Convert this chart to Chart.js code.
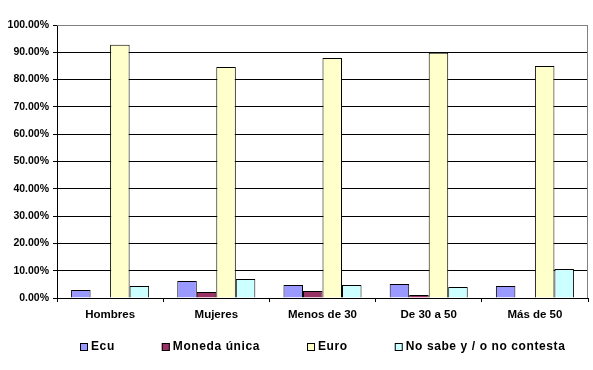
<!DOCTYPE html>
<html>
<head>
<meta charset="utf-8">
<script src="https://cdn.jsdelivr.net/npm/chart.js@4/dist/chart.umd.min.js"></script>
<style>
html,body{margin:0;padding:0;background:#fff;}
#wrap{width:593px;height:370px;}
</style>
</head>
<body>
<div id="wrap"><canvas id="c" width="593" height="370"></canvas></div>
<script>
const categories = ["Hombres", "Mujeres", "Menos de 30", "De 30 a 50", "Más de 50"];
const seriesNames = ["Ecu", "Moneda única", "Euro", "No sabe y / o no contesta"];
const ecu = [2.9, 6.2, 4.8, 5.1, 4.4];
const monedaUnica = [0, 2.2, 2.6, 1.1, 0];
const euro = [92.8, 84.6, 87.9, 89.8, 85.0];
const noSabe = [4.4, 7.0, 4.8, 4.0, 10.6];
const yTicks = [0, 10, 20, 30, 40, 50, 60, 70, 80, 90, 100];

const colors = ["#9999FF", "#993366", "#FFFFCC", "#CCFFFF"];
const values = [ecu, monedaUnica, euro, noSabe];

const plotBorder = {
  id: 'plotBorder',
  afterDatasetsDraw(chart) {
    const a = chart.chartArea, ctx = chart.ctx;
    ctx.save();
    ctx.strokeStyle = '#808080';
    ctx.lineWidth = 1;
    ctx.beginPath();
    ctx.moveTo(a.left, Math.round(a.top) + 0.5);
    ctx.lineTo(Math.round(a.right) - 0.5, Math.round(a.top) + 0.5);
    ctx.lineTo(Math.round(a.right) - 0.5, a.bottom);
    ctx.stroke();
    ctx.restore();
  }
};

// legend drawn from the chart's own dataset labels/colours
const bottomLegend = {
  id: 'bottomLegend',
  afterDraw(chart) {
    const ctx = chart.ctx;
    const items = chart.data.datasets.map(d => ({ text: d.label, fill: d.backgroundColor }));
    const box = 8, boxGap = 3, itemGap = 47, centerX = 322.5, centerY = 347;
    ctx.save();
    ctx.font = 'bold 12px Arial, "Liberation Sans", sans-serif';
    try { ctx.letterSpacing = '0.6px'; } catch (e) {}
    const widths = items.map(it => ctx.measureText(it.text).width);
    const total = widths.reduce((s, w) => s + w + box + boxGap, 0) + itemGap * (items.length - 1);
    let x = Math.round(centerX - total / 2);
    ctx.textBaseline = 'middle';
    ctx.textAlign = 'left';
    items.forEach((it, i) => {
      ctx.fillStyle = it.fill;
      ctx.fillRect(x, centerY - box / 2, box, box);
      ctx.strokeStyle = '#000';
      ctx.lineWidth = 1;
      ctx.strokeRect(x + 0.5, centerY - box / 2 + 0.5, box - 1, box - 1);
      ctx.fillStyle = '#000';
      ctx.fillText(it.text, x + box + boxGap, centerY);
      x += box + boxGap + widths[i] + itemGap;
    });
    ctx.restore();
  }
};

new Chart(document.getElementById('c'), {
  type: 'bar',
  data: {
    labels: categories,
    datasets: seriesNames.map((n, i) => ({
      label: n,
      data: values[i],
      backgroundColor: colors[i],
      borderColor: '#000',
      borderWidth: 1,
      categoryPercentage: 0.735,
      barPercentage: 1.0
    }))
  },
  options: {
    responsive: false,
    animation: false,
    layout: { padding: { left: 0, right: 5, top: 25, bottom: 42 } },
    plugins: {
      tooltip: { enabled: false },
      legend: { display: false }
    },
    scales: {
      x: {
        offset: true,
        grid: { offset: true, drawOnChartArea: false, drawTicks: true, tickLength: 4, color: '#000' },
        border: { color: '#000', width: 1 },
        ticks: {
          color: '#000',
          padding: 6,
          maxRotation: 0,
          font: { family: 'Arial, "Liberation Sans", sans-serif', size: 11.5, weight: 'bold' }
        },
        afterFit(s) { s.height = 30; }
      },
      y: {
        min: 0,
        max: 100,
        afterBuildTicks(s) { s.ticks = yTicks.map(v => ({ value: v })); },
        grid: {
          color: ctx => (ctx.tick && ctx.tick.value === 100) ? '#808080' : '#000',
          tickColor: '#000',
          tickLength: 4,
          lineWidth: 1
        },
        border: { color: '#000', width: 1 },
        ticks: {
          color: '#000',
          padding: 4,
          callback: v => Number(v).toFixed(2) + '%',
          font: { family: 'Arial, "Liberation Sans", sans-serif', size: 10.5, weight: 'bold' }
        },
        afterFit(s) { s.width = 57; }
      }
    }
  },
  plugins: [plotBorder, bottomLegend]
});
</script>
</body>
</html>
